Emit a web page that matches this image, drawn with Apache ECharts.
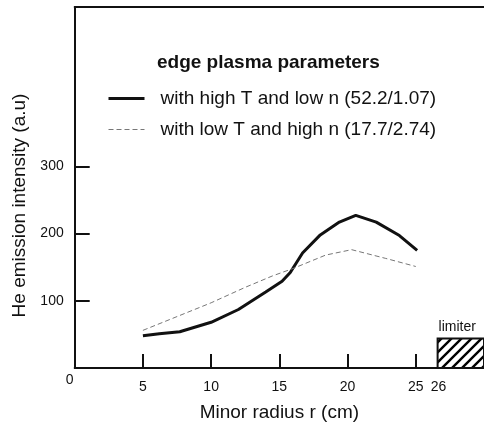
<!DOCTYPE html>
<html>
<head>
<meta charset="utf-8">
<script src="https://cdn.jsdelivr.net/npm/echarts@6/dist/echarts.min.js"></script>
<style>
  html, body { margin: 0; padding: 0; background: #fff; }
  #chart { width: 484px; height: 427px; }
</style>
</head>
<body>
<div id="chart"></div>
<script>
// 数据
const xTicks = [5, 10, 15, 20, 25];
const yTicks = [100, 200, 300];
const highTName = 'with high T and low n (52.2/1.07)';
const lowTName = 'with low T and high n (17.7/2.74)';
const highT = [[5, 48], [6.2, 51], [7.7, 54], [10, 68], [12, 87], [14, 113], [15.2, 129], [15.8, 142],
    [16.7, 171], [18, 198], [19.4, 217], [20.6, 227], [22.1, 217], [23.8, 197], [25.1, 175]];
const lowT = [[5, 56], [10, 97], [12.5, 120], [14.5, 137], [16, 148], [18.4, 168], [20.3, 176],
    [22.8, 163], [25, 151]];
// 限制器: 起点, 终点, 高度
const limiter = [[26.6, 30, 44]];
const limiterLabel = '26';

const font = 'Liberation Sans, Arial, sans-serif';
const chart = echarts.init(document.getElementById('chart'));

// 斜线填充
const hatch = document.createElement('canvas');
hatch.width = 10;
hatch.height = 10;
const ctx = hatch.getContext('2d');
ctx.strokeStyle = '#000';
ctx.lineWidth = 2.4;
ctx.beginPath();
ctx.moveTo(-1, 11); ctx.lineTo(11, -1);
ctx.moveTo(-6, 6); ctx.lineTo(6, -6);
ctx.moveTo(4, 16); ctx.lineTo(16, 4);
ctx.stroke();

const option = {
    animation: false,
    title: {
        text: 'edge plasma parameters',
        left: 157,
        top: 53,
        padding: 0,
        textStyle: { fontFamily: font, fontSize: 19, fontWeight: 'bold', color: '#111' }
    },
    legend: {
        orient: 'vertical',
        left: 107,
        top: 89,
        padding: 0,
        itemWidth: 36,
        itemHeight: 20,
        itemGap: 12,
        itemStyle: { opacity: 0 },
        data: [
            { name: highTName, lineStyle: { width: 3 } },
            { name: lowTName, lineStyle: { width: 1 } }
        ],
        textStyle: { fontFamily: font, fontSize: 19, color: '#111', padding: [0, 0, 0, 11] }
    },
    grid: { left: 74.7, right: 0, top: 7, bottom: 54 },
    xAxis: [{
        type: 'value',
        min: 0,
        max: 30,
        name: 'Minor radius r (cm)',
        nameLocation: 'middle',
        nameGap: 35,
        nameTextStyle: { fontFamily: font, fontSize: 19, color: '#111' },
        axisLine: { lineStyle: { color: '#111', width: 2 } },
        axisTick: { inside: true, length: 14, lineStyle: { width: 2, color: '#111' }, customValues: xTicks },
        axisLabel: { customValues: xTicks, margin: 12, fontFamily: font, fontSize: 14, color: '#111' },
        splitLine: { show: false }
    }, {
        type: 'value',
        position: 'top',
        min: 0,
        max: 30,
        axisLine: { show: true, onZero: false, lineStyle: { color: '#111', width: 2 } },
        axisTick: { show: false },
        axisLabel: { show: false },
        splitLine: { show: false }
    }],
    yAxis: {
        type: 'value',
        min: 0,
        max: 537,
        name: 'He emission intensity (a.u)',
        nameLocation: 'middle',
        nameGap: 38,
        nameTextStyle: { fontFamily: font, fontSize: 19, color: '#111', padding: [0, 36, 0, 0] },
        axisLine: { show: true, lineStyle: { color: '#111', width: 2 } },
        axisTick: { show: true, inside: true, length: 15, lineStyle: { width: 2, color: '#111' }, customValues: yTicks },
        axisLabel: { customValues: yTicks, margin: 11, fontFamily: font, fontSize: 14, color: '#111' },
        splitLine: { show: false }
    },
    series: [{
        name: highTName,
        type: 'line',
        data: highT,
        symbol: 'none',
        lineStyle: { color: '#111', width: 3 },
        itemStyle: { color: '#111' }
    }, {
        name: lowTName,
        type: 'line',
        data: lowT,
        symbol: 'none',
        lineStyle: { color: '#777', width: 1, type: [5, 3] },
        itemStyle: { color: '#777' }
    }, {
        type: 'custom',
        clip: false,
        encode: { x: [0, 1], y: 2 },
        data: limiter,
        renderItem: function (params, api) {
            const p0 = api.coord([api.value(0), api.value(2)]);
            const p1 = api.coord([api.value(1), 0]);
            return {
                type: 'group',
                children: [{
                    type: 'rect',
                    shape: { x: p0[0], y: p0[1], width: p1[0] - p0[0], height: p1[1] - p0[1] },
                    style: { fill: { image: hatch, repeat: 'repeat' }, stroke: '#111', lineWidth: 2 }
                }, {
                    type: 'text',
                    x: p0[0] + 1,
                    y: p0[1] - 4,
                    style: { text: 'limiter', fill: '#111', font: '14px ' + font, align: 'left', verticalAlign: 'bottom' }
                }, {
                    type: 'text',
                    x: p0[0] + 1,
                    y: p1[1] + 12,
                    style: { text: limiterLabel, fill: '#111', font: '14px ' + font, align: 'center', verticalAlign: 'top' }
                }]
            };
        }
    }]
};

chart.setOption(option);

// 原点 "0" 标签
const origin = chart.convertToPixel({ xAxisIndex: 0, yAxisIndex: 0 }, [0, 0]);
chart.setOption({
    graphic: [{
        type: 'text',
        x: origin[0] - 5,
        y: origin[1] + 12,
        style: { text: '0', fill: '#111', font: '14px ' + font, align: 'center', verticalAlign: 'middle' }
    }]
});
</script>
</body>
</html>
